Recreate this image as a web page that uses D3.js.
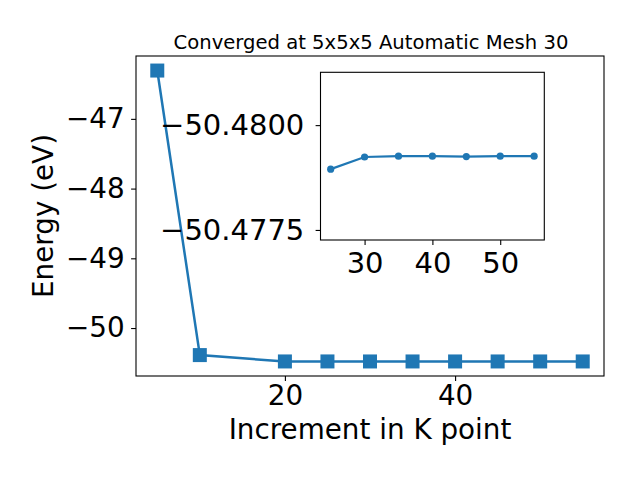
<!DOCTYPE html>
<html><head><meta charset="utf-8">
<script src="https://cdn.jsdelivr.net/npm/d3@7"></script>
<style>
body{margin:0;background:#fff;}
text{font-family:"DejaVu Sans",sans-serif;fill:#000;}
</style></head>
<body><svg id="c" width="640" height="480"></svg>
<script>
const kpoints = [5, 10, 20, 25, 30, 35, 40, 45, 50, 55];
const energy = [-46.307, -50.388, -50.4791, -50.47895, -50.47924, -50.47926, -50.47926, -50.47925, -50.47926, -50.47926];
const insetK = [25, 30, 35, 40, 45, 50, 55];
const insetE = [-50.47895, -50.47924, -50.47926, -50.47926, -50.47925, -50.47926, -50.47926];
const mainXTicks = [20, 40];
const mainYTicks = [-47, -48, -49, -50];
const insetXTicks = [30, 40, 50];
const insetYTicks = [-50.4800, -50.4775];
const insetYLim = [-50.47726, -50.48126];
const title = "Converged at 5x5x5 Automatic Mesh 30";
const xLabel = "Increment in K point";
const yLabel = "Energy (eV)";
const color = "#1f77b4";

const svg = d3.select("#c");
const M = {l:136, r:604, t:56, b:376};

function pad(ext){const d=ext[1]-ext[0];return [ext[0]-0.05*d, ext[1]+0.05*d];}
const x = d3.scaleLinear().domain(pad(d3.extent(kpoints))).range([M.l, M.r]);
const y = d3.scaleLinear().domain(pad(d3.extent(energy))).range([M.b, M.t]);

function styleAxis(g, fs){
  g.select(".domain").remove();
  g.selectAll(".tick line").attr("stroke","#000").attr("stroke-width",1.1);
  g.selectAll(".tick text").attr("font-size",fs).attr("font-family","DejaVu Sans").attr("fill","#000");
}

// main axes
const data = kpoints.map((k,i)=>({k, e:energy[i]}));
svg.append("path").datum(data)
  .attr("fill","none").attr("stroke",color).attr("stroke-width",2.5)
  .attr("d", d3.line().x(d=>x(d.k)).y(d=>y(d.e)));
const sq = 14;
svg.append("g").selectAll("rect").data(data).join("rect")
  .attr("x", d=>x(d.k)-sq/2).attr("y", d=>y(d.e)-sq/2)
  .attr("width", sq).attr("height", sq).attr("fill", color);

svg.append("g").attr("transform",`translate(0,${M.b})`)
  .call(d3.axisBottom(x).tickValues(mainXTicks).tickSize(4.9).tickPadding(5).tickFormat(d3.format("d")))
  .call(g=>styleAxis(g,27.8))
  .call(g=>g.selectAll(".tick text").attr("y",29).attr("dy","0"));
svg.append("g").attr("transform",`translate(${M.l},0)`)
  .call(d3.axisLeft(y).tickValues(mainYTicks).tickSize(4.9).tickPadding(6.5).tickFormat(d3.format("d")))
  .call(g=>styleAxis(g,27.8));
svg.append("rect").attr("x",M.l).attr("y",M.t).attr("width",M.r-M.l).attr("height",M.b-M.t)
  .attr("fill","none").attr("stroke","#000").attr("stroke-width",1.1);

svg.append("text").attr("x",371).attr("y",49).attr("text-anchor","middle").attr("font-size",19.6).text(title);
svg.append("text").attr("x",(M.l+M.r)/2).attr("y",439).attr("text-anchor","middle").attr("font-size",27.8).text(xLabel);
svg.append("text").attr("transform",`translate(53,${(M.t+M.b)/2}) rotate(-90)`).attr("text-anchor","middle").attr("font-size",27.8).text(yLabel);

// inset
const I = {l:320.5, r:544.3, t:72.3, b:240};
const ix = d3.scaleLinear().domain(pad(d3.extent(insetK))).range([I.l, I.r]);
const iy = d3.scaleLinear().domain(insetYLim).range([I.b, I.t]);
svg.append("rect").attr("x",I.l).attr("y",I.t).attr("width",I.r-I.l).attr("height",I.b-I.t)
  .attr("fill","#fff").attr("stroke","none");
const idata = insetK.map((k,i)=>({k, e:insetE[i]}));
svg.append("path").datum(idata)
  .attr("fill","none").attr("stroke",color).attr("stroke-width",2.2)
  .attr("d", d3.line().x(d=>ix(d.k)).y(d=>iy(d.e)));
svg.append("g").selectAll("circle").data(idata).join("circle")
  .attr("cx", d=>ix(d.k)).attr("cy", d=>iy(d.e)).attr("r",3.6).attr("fill",color);
svg.append("g").attr("transform",`translate(0,${I.b})`)
  .call(d3.axisBottom(ix).tickValues(insetXTicks).tickSize(4.9).tickPadding(5).tickFormat(d3.format("d")))
  .call(g=>styleAxis(g,29))
  .call(g=>g.selectAll(".tick text").attr("y",32.7).attr("dy","0"));
svg.append("g").attr("transform",`translate(${I.l},0)`)
  .call(d3.axisLeft(iy).tickValues(insetYTicks).tickSize(4.9).tickPadding(11.3).tickFormat(d3.format(".4f")))
  .call(g=>styleAxis(g,29));
svg.append("rect").attr("x",I.l).attr("y",I.t).attr("width",I.r-I.l).attr("height",I.b-I.t)
  .attr("fill","none").attr("stroke","#000").attr("stroke-width",1.1);
</script></body></html>
